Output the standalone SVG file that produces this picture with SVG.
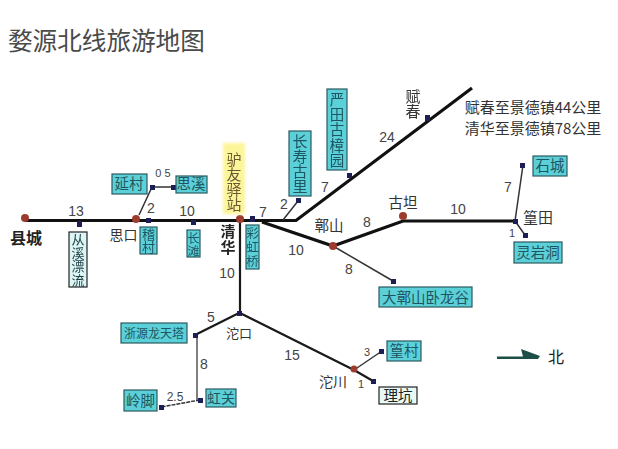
<svg xmlns="http://www.w3.org/2000/svg" width="618" height="449" viewBox="0 0 618 449">
<defs><filter id="soft" x="-20%" y="-20%" width="140%" height="140%"><feGaussianBlur stdDeviation="1.500"/></filter></defs>
<style>
text{font-family:"Noto Sans CJK SC","Liberation Sans",sans-serif;fill:#333}
.n{font-family:"Liberation Sans",sans-serif;font-size:14px;fill:#444;text-anchor:middle}
.s{font-size:11px}
.l{font-size:14px;fill:#333;text-anchor:middle}
.b{font-size:15px;fill:#222;text-anchor:middle;font-weight:700}
.t{font-size:14.500px;fill:#1f5560;text-anchor:middle}
.v{writing-mode:vertical-rl;text-orientation:upright;text-anchor:start;opacity:.99}
.box{fill:#5bd0d8;stroke:#2b5a60;stroke-width:1.200}
.pale{fill:#dcf6f6;stroke:#222;stroke-width:1.200}
.thick{fill:none;stroke:#111;stroke-width:3.200}
.mid{fill:none;stroke:#1a1a1a;stroke-width:2.200}
.thin{fill:none;stroke:#333;stroke-width:1.500}
.sq{fill:#1c1f55}
.dot{fill:#9c3b2e}
</style>
<rect width="618" height="449" fill="#fff"/>
<text id="title" x="8" y="50" style="font-size:24.600px;fill:#4a4a4a">婺源北线旅游地图</text>
<g id="connectors">
<path class="thick" d="M25 220.500H296L472 88"/>
<path class="thick" d="M262 222L333 246L403 221H515"/>
<path class="mid" d="M240 222V313L354 370"/>
<path class="mid" d="M239 313L195 335"/>
<path class="thin" style="stroke:#555" d="M197 335V400"/>
<path class="thin" d="M200 400L161 407" stroke-dasharray="4 1"/>
<path class="thin" d="M354 370L382 351"/>
<path class="mid" d="M354 370L373 381"/>
<path class="thin" d="M333 246L393 281"/>
<path class="thin" d="M515 221L523 165"/>
<path class="thin" d="M515 221L525 235"/>
<path class="thin" d="M283 220L298 201"/>
<path class="thin" d="M139 215L152 187H173"/>
<path id="north-arrow" d="M497 356.500H523L521 349L540 356L538 359H497Z" fill="#1d4f48"/>
</g>
<g id="dots">
<circle class="dot" cx="25" cy="218" r="4"/>
<circle class="dot" cx="136" cy="219" r="4"/>
<circle class="dot" cx="240" cy="219" r="4"/>
<circle class="dot" cx="333" cy="246" r="4"/>
<circle class="dot" cx="403" cy="216" r="4"/>
<circle class="dot" cx="354" cy="369" r="3.500"/>
</g>
<g id="markers">
<rect class="sq" x="77" y="221" width="5" height="6"/><rect class="sq" x="146" y="218" width="5" height="5"/><rect class="sq" x="191" y="220" width="5" height="5"/><rect class="sq" x="250" y="216" width="5" height="6"/><rect class="sq" x="296" y="198" width="5" height="5"/><rect class="sq" x="347" y="173" width="5" height="5"/><rect class="sq" x="425" y="115" width="5" height="6"/><rect class="sq" x="520" y="163" width="5" height="5"/><rect class="sq" x="513" y="219" width="5" height="5"/><rect class="sq" x="523" y="233" width="5" height="5"/><rect class="sq" x="391" y="279" width="5" height="5"/><rect class="sq" x="150" y="185" width="5" height="5"/><rect class="sq" x="171" y="185" width="5" height="5"/><rect class="sq" x="237" y="311" width="5" height="5"/><rect class="sq" x="193" y="333" width="5" height="5"/><rect class="sq" x="198" y="398" width="5" height="5"/><rect class="sq" x="159" y="405" width="5" height="5"/><rect class="sq" x="379" y="349" width="5" height="5"/><rect class="sq" x="371" y="379" width="5" height="5"/>
</g>
<g id="n-yancun"><rect class="box" x="112" y="174" width="35" height="20"/><text class="t" x="129" y="189">延村</text></g>
<g id="n-sixi"><rect class="box" x="176" y="176" width="31" height="17"/><text class="t" x="191" y="189">思溪</text></g>
<g id="n-congxi"><rect class="pale" x="69" y="232" width="18" height="55"/><text class="v" style="font-size:13px;letter-spacing:0.500px;fill:#1f3a40" x="78" y="233">从溪漂流</text></g>
<g id="n-zhecun"><rect class="box" x="140" y="227" width="17" height="27"/><text class="v" style="font-size:13px;fill:#1f5560" x="148.500" y="228">稽村</text></g>
<g id="n-changtan"><rect class="box" x="187" y="230" width="13" height="27"/><text class="v" style="font-size:12px;letter-spacing:1px;fill:#1f5560" x="193.500" y="232">长滩</text></g>
<g id="n-station"><rect x="223" y="143" width="22" height="71" fill="#fdf59a" filter="url(#soft)"/><text class="v" style="font-size:15px;fill:#6a5630" x="234" y="152">驴友驿站</text></g>
<g id="n-caihong"><rect class="box" x="246" y="225" width="13" height="44"/><text class="v" style="font-size:12.500px;letter-spacing:1.500px;fill:#1f5560" x="252.500" y="227">彩虹桥</text></g>
<g id="n-changshou"><rect class="box" x="289" y="131" width="22" height="65"/><text class="v" style="font-size:15px;fill:#1f5560" x="300" y="133.500">长寿古里</text></g>
<g id="n-yantian"><rect class="box" x="327" y="89" width="20" height="81"/><text class="v" style="font-size:14.500px;letter-spacing:0.800px;fill:#1f5560" x="337" y="92">严田古樟园</text></g>
<g id="n-shicheng"><rect class="box" x="533" y="156" width="34" height="20"/><text class="t" x="550" y="171">石城</text></g>
<g id="n-lingyan"><rect class="box" x="514" y="242" width="48" height="21"/><text class="t" x="538" y="258">灵岩洞</text></g>
<g id="n-dazhang"><rect class="box" x="379" y="287" width="93" height="20"/><text class="t" x="425.500" y="302.500">大鄣山卧龙谷</text></g>
<g id="n-longtian"><rect class="box" x="121" y="323" width="66" height="20"/><text class="t" style="font-size:12px" x="154" y="337.500">浙源龙天塔</text></g>
<g id="n-lingjiao"><rect class="box" x="124" y="390" width="33" height="21"/><text class="t" x="140.500" y="405.500">岭脚</text></g>
<g id="n-hongguan"><rect class="box" x="206" y="389" width="30" height="18"/><text class="t" style="font-size:14px" x="221" y="403">虹关</text></g>
<g id="n-huangcun"><rect class="box" x="387" y="341" width="34" height="20"/><text class="t" x="404" y="356">篁村</text></g>
<g id="n-likeng"><rect class="pale" style="fill:#e8f8f4" x="379" y="387" width="38" height="17"/><text class="t" style="fill:#222" x="398" y="401">理坑</text></g>
<g id="labels">
<text class="b" style="font-size:16px" x="26" y="244">县城</text>
<text class="l" x="123.500" y="240">思口</text>
<text class="v" style="font-size:15px;font-weight:700;fill:#222;letter-spacing:0.500px" x="228" y="224">清华</text>
<text class="v" style="font-size:15px;fill:#333" x="413" y="89">赋春</text>
<text class="l" style="font-size:14.500px" x="329" y="231">鄣山</text>
<text class="l" style="font-size:14.500px" x="403" y="208">古坦</text>
<text class="l" style="font-size:15px" x="538" y="223">篁田</text>
<text class="l" style="font-size:13px" x="239" y="338">沱口</text>
<text class="l" x="333" y="387">沱川</text>
<text class="l" x="533" y="113" style="font-size:15px">赋春至景德镇44公里</text>
<text class="l" x="533" y="134" style="font-size:15px">清华至景德镇78公里</text>
<text class="l" x="556" y="363" style="font-size:16px;fill:#222">北</text>
</g>
<g id="numbers">
<text class="n" x="76" y="216">13</text><text class="n" x="151" y="213">2</text><text class="n" x="187" y="216">10</text><text class="n s" x="163" y="177">0 5</text>
<text class="n" x="263" y="217">7</text><text class="n" x="284" y="209">2</text><text class="n" x="325" y="192">7</text><text class="n" x="387" y="142">24</text><text class="n" x="296" y="255">10</text><text class="n" x="367" y="227">8</text><text class="n" x="349" y="274">8</text><text class="n" x="458" y="214">10</text><text class="n" x="508" y="192">7</text><text class="n s" x="512" y="237">1</text>
<text class="n" x="227" y="278">10</text><text class="n" x="211" y="322">5</text><text class="n" x="204" y="369">8</text><text class="n" x="292" y="360">15</text><text class="n s" x="367" y="356">3</text><text class="n s" x="361" y="388">1</text><text class="n" style="font-size:12px" x="175" y="401">2.5</text>
</g>
</svg>
